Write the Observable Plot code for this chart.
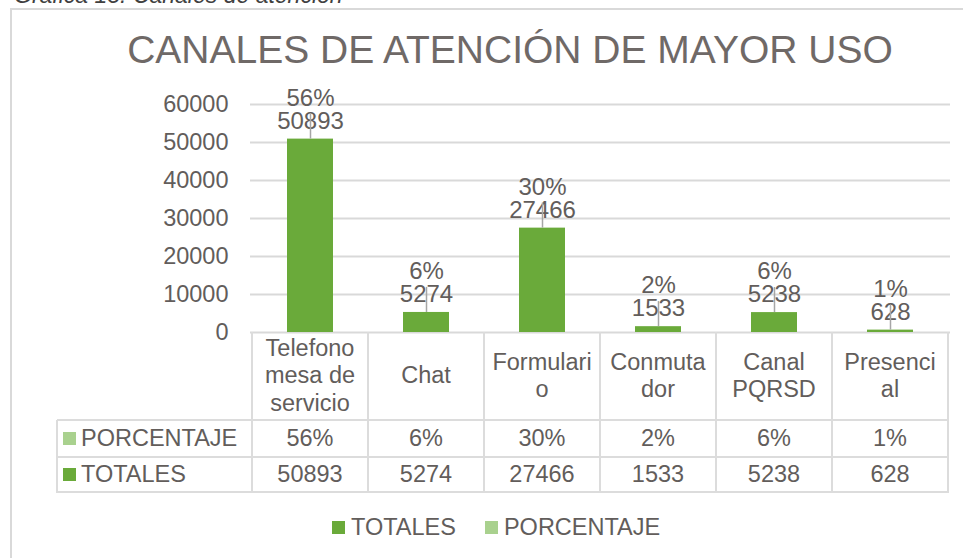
<!DOCTYPE html>
<html>
<head>
<meta charset="utf-8">
<script src="https://cdn.jsdelivr.net/npm/d3@7"></script>
<script src="https://cdn.jsdelivr.net/npm/@observablehq/plot@0.6"></script>
<style>
  body { margin: 0; background: #fff; }
  #root { position: relative; width: 963px; height: 558px; overflow: hidden; background: #fff;
          font-family: "Liberation Sans", Arial, sans-serif; color: #625d5b; }
  .abs { position: absolute; }
  .hl { position: absolute; height: 2px; background: #dcdcdc; }
  .vl { position: absolute; width: 2px; background: #dcdcdc; }
  .cell { position: absolute; display: flex; align-items: center; justify-content: center;
          text-align: center; font-size: 23.5px; line-height: 27.5px; color: #625d5b; white-space: nowrap; }
</style>
</head>
<body>
<div id="root"></div>
<script>
// ---- data ----
const categories = ["Telefono mesa de servicio", "Chat", "Formulario", "Conmutador", "Canal PQRSD", "Presencial"];
const categoryLines = [["Telefono", "mesa de", "servicio"], ["Chat"], ["Formulari", "o"], ["Conmuta", "dor"], ["Canal", "PQRSD"], ["Presenci", "al"]];
const totales = [50893, 5274, 27466, 1533, 5238, 628];
const porcentajes = [0.56, 0.06, 0.30, 0.02, 0.06, 0.01];
const pctLabels = ["56%", "6%", "30%", "2%", "6%", "1%"];
const yTicks = [0, 10000, 20000, 30000, 40000, 50000, 60000];
const seriesNames = ["TOTALES", "PORCENTAJE"];
const seriesColors = ["#6aaa3a", "#a9d18e"];
const titleText = "CANALES DE ATENCIÓN DE MAYOR USO";
const captionText = "Gráfica 13. Canales de atención";

const data = categories.map((c, i) => ({cat: c, total: totales[i], pct: porcentajes[i], pctLabel: pctLabels[i]}));

const root = document.getElementById("root");
const textColor = "#625d5b";

// caption (cut at top, as in the source image)
const cap = document.createElement("div");
cap.className = "abs";
cap.style.cssText = "left:14px;top:-16px;font-size:23px;line-height:23px;font-style:italic;color:#404040;white-space:nowrap;";
cap.textContent = captionText;
root.appendChild(cap);

// frame
const frame = document.createElement("div");
frame.className = "abs";
frame.style.cssText = "left:10px;top:8px;width:1000px;height:600px;border-left:2px solid #d9d9d9;border-top:2px solid #d9d9d9;";
root.appendChild(frame);

// ---- chart ----
const plot = Plot.plot({
  width: 963,
  height: 340,
  marginLeft: 250,
  marginRight: 13,
  marginTop: 104,
  marginBottom: 8,
  style: {background: "transparent", fontFamily: "'Liberation Sans', Arial, sans-serif", color: textColor, overflow: "visible"},
  x: {domain: categories, paddingInner: 0.6, paddingOuter: 0.3, axis: null},
  y: {domain: [0, 60000], axis: null},
  marks: [
    Plot.gridY(yTicks, {stroke: "#d9d9d9", strokeOpacity: 1, strokeWidth: 2}),
    Plot.axisY({ticks: yTicks, label: null, tickSize: 0, tickPadding: 22, fontSize: 23.5, fill: textColor, tickFormat: d => String(d)}),
    Plot.barY(data, {x: "cat", y: "total", fill: seriesColors[0]}),
    Plot.text(data, {x: "cat", y: "total", text: d => String(d.total), dy: -18, fontSize: 24, fill: textColor}),
    Plot.text(data, {x: "cat", y: "total", text: "pctLabel", dy: -41, fontSize: 24, fill: textColor}),
    Plot.ruleX(data, {x: "cat", y1: "total", y2: d => d.total + 6600, stroke: "#a6a6a6", strokeWidth: 1.5})
  ]
});
plot.style.position = "absolute";
plot.style.left = "0px";
plot.style.top = "0px";
root.appendChild(plot);

// title
const title = document.createElement("div");
title.className = "abs";
title.style.cssText = "left:0;top:31px;width:1020px;text-align:center;font-size:39px;line-height:38px;color:#6f6967;white-space:nowrap;";
title.textContent = titleText;
root.appendChild(title);

// ---- data table under the axis, aligned with the plot's x scale ----
const xs = plot.scale("x");
const step = xs.step, bw = xs.bandwidth;
const colLeft = c => xs.apply(c) + bw / 2 - step / 2;
const yZero = 332, yHead = 420, yRow1 = 457, yRow2 = 492, tableLeft = 57;
const plotRight = colLeft(categories[categories.length - 1]) + step;

function add(cls, css, text) {
  const d = document.createElement("div");
  d.className = cls;
  d.style.cssText = css;
  if (text != null) d.innerHTML = text;
  root.appendChild(d);
  return d;
}
// horizontal lines
[yHead, yRow1, yRow2].forEach(y => add("hl", `left:${tableLeft}px;top:${y - 1}px;width:${plotRight - tableLeft + 1}px;`));
// vertical lines
categories.forEach(c => add("vl", `left:${colLeft(c) - 1}px;top:${yZero}px;height:${yRow2 - yZero + 1}px;`));
add("vl", `left:${plotRight - 1}px;top:${yZero}px;height:${yRow2 - yZero + 1}px;`);
add("vl", `left:${tableLeft - 1}px;top:${yHead}px;height:${yRow2 - yHead + 1}px;`);

categories.forEach((c, i) => {
  const l = colLeft(c);
  add("cell", `left:${l}px;top:${yZero}px;width:${step}px;height:${yHead - yZero}px;`, categoryLines[i].join("<br>"));
  add("cell", `left:${l}px;top:${yHead}px;width:${step}px;height:${yRow1 - yHead}px;`, pctLabels[i]);
  add("cell", `left:${l}px;top:${yRow1}px;width:${step}px;height:${yRow2 - yRow1}px;`, String(totales[i]));
});
// row labels
[[seriesNames[1], seriesColors[1], yHead, yRow1], [seriesNames[0], seriesColors[0], yRow1, yRow2]].forEach(([name, col, t, b]) => {
  const d = add("cell", `left:${tableLeft + 6}px;top:${t}px;width:${250 - tableLeft - 6}px;height:${b - t}px;justify-content:flex-start;`);
  d.innerHTML = `<span style="display:inline-block;width:13px;height:13px;background:${col};margin-right:5px;"></span>${name}`;
});

// legend
const leg = add("abs", "left:332px;top:513px;display:flex;align-items:center;font-size:23.5px;line-height:28px;color:#625d5b;white-space:nowrap;");
leg.innerHTML = seriesNames.map((n, i) =>
  `<span style="display:inline-block;width:13px;height:13px;background:${seriesColors[i]};margin-right:6px;"></span><span style="margin-right:${i === 0 ? 29 : 0}px">${n}</span>`
).join("");
</script>
</body>
</html>
